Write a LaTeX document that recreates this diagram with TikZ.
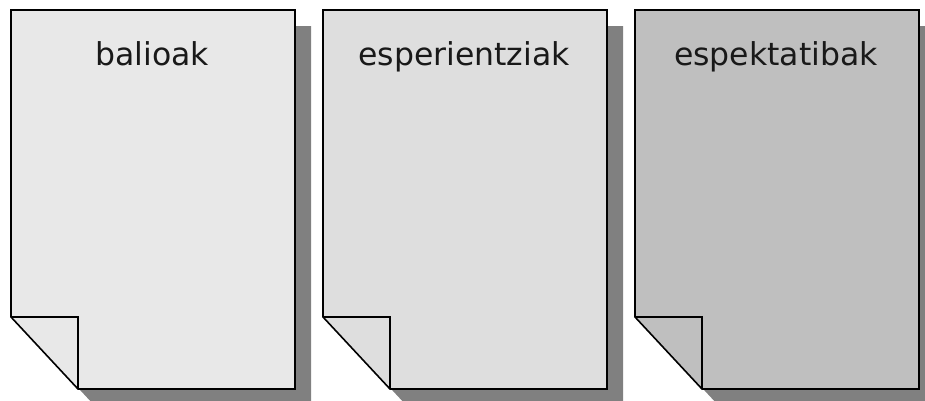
\documentclass[tikz,border=0pt]{standalone}
\usepackage{fontspec}
\setmainfont{DejaVu Sans}
\begin{document}
\begin{tikzpicture}[x=1pt,y=-1pt,
  docline/.style={draw=black,line width=1.6pt,line join=miter},
  shadowfill/.style={fill=black!50},
  doclabel/.style={font=\fontsize{31.5}{36}\selectfont,text=black!90,anchor=base,inner sep=0pt}]
\useasboundingbox (0,0) rectangle (925,400);
\clip (0,0) rectangle (925,400);
\foreach \x/\col/\txt/\nm in {11/black!9/balioak/a,323/black!13/esperientziak/b,635/black!25/espektatibak/c}{
  \fill[shadowfill] (\x+16,26) -- (\x+300,26) -- (\x+300,405) -- (\x+83,405) -- (\x+16,333) -- cycle;
  \path[fill=\col] (\x,10) -- (\x+284,10) -- (\x+284,389) -- (\x+67,389) -- (\x,317) -- cycle;
  \draw[docline] (\x,317) -- (\x,10) -- (\x+284,10) -- (\x+284,389) -- (\x+67,389) -- cycle;
  \draw[docline] (\x,317) -- (\x+67,317) -- (\x+67,389);
  \node[doclabel] (\nm) at (\x+141,65) {\txt};
}
\end{tikzpicture}
\end{document}
